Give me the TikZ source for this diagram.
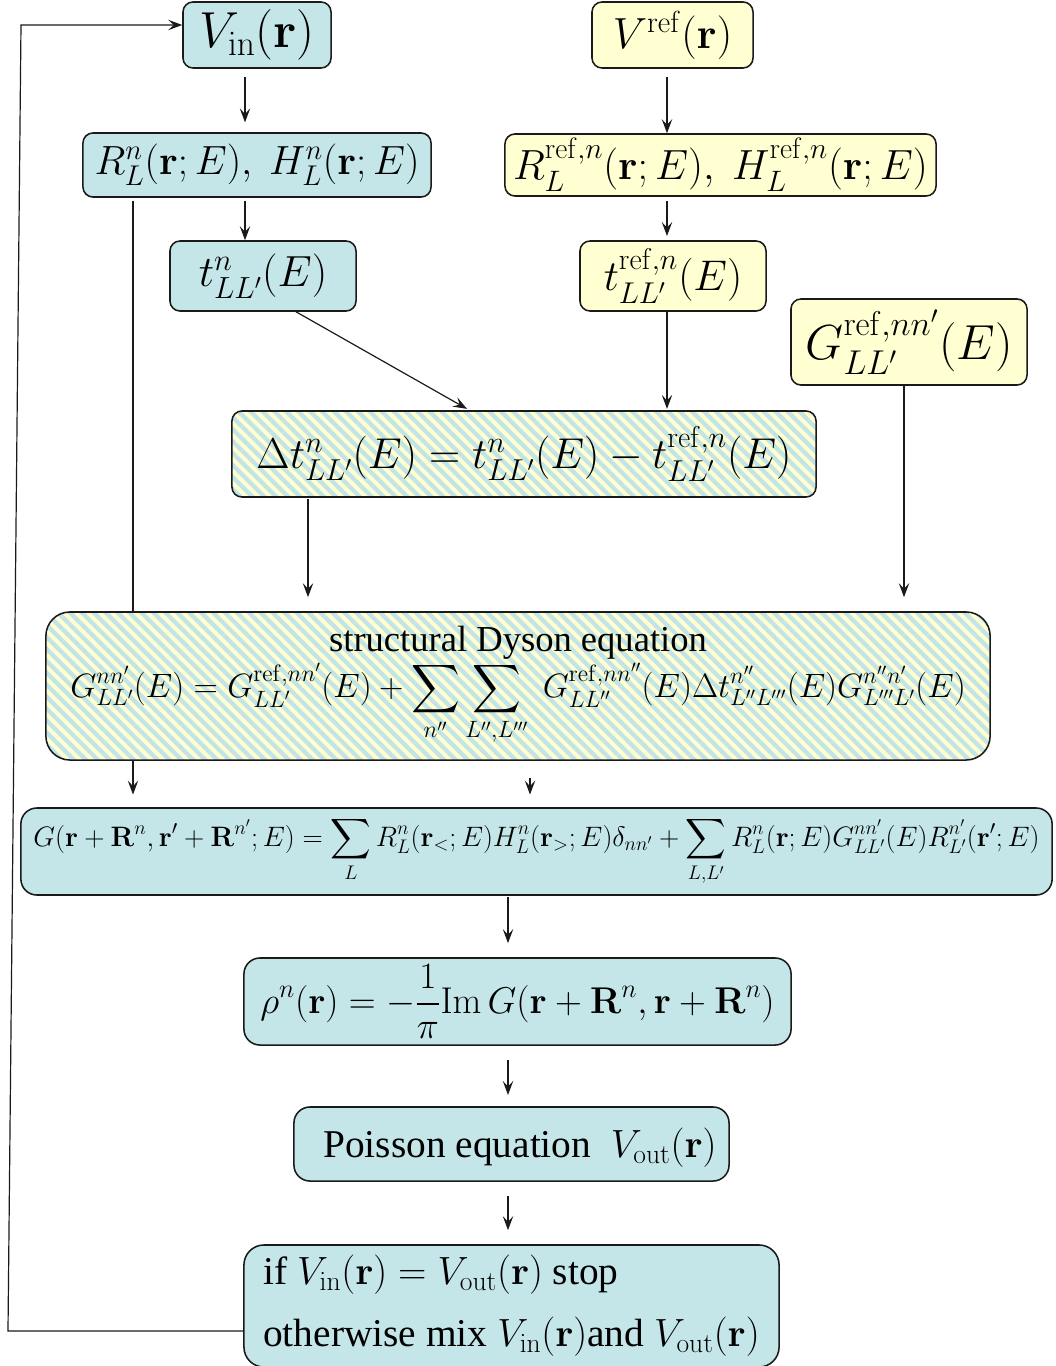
\documentclass[tikz,border=0pt]{standalone}
\usepackage{fix-cm}
\usepackage{amsmath,amssymb}
\usepackage[no-math]{fontspec}
\setmainfont{Liberation Serif}
\newfontfamily\textserif{Liberation Serif}
\usetikzlibrary{arrows.meta,calc,patterns.meta}
\definecolor{box}{HTML}{C5E6E8}
\definecolor{pale}{HTML}{FFFFD2}
\definecolor{stripe}{HTML}{C2E4E6}
\definecolor{ink}{HTML}{1A1A1A}
\newcommand{\rr}{\mathbf{r}}
\newcommand{\RR}{\mathbf{R}}

\begin{document}
\begin{tikzpicture}[
  x=0.025cm, y=-0.025cm,
  >={Stealth[length=3.5mm,width=2.6mm,inset=1.4mm]},
  stage/.style={
    rectangle,
    rounded corners=2.5mm,
    draw=ink,
    fill=box,
    line width=1.1pt,
    inner sep=0pt,
    align=center
  },
  given/.style={
    stage,
    fill=pale
  },
  hatched/.style={
    stage,
    fill=none,
    preaction={fill=pale},
    pattern={Lines[angle=-45,distance=6pt,line width=3pt]},
    pattern color=stripe
  },
  flow/.style={
    ink,
    line width=.85pt,
    ->
  }
]
\useasboundingbox (0,0) rectangle (1055,1366);

% potential input and reference system
\node[stage,minimum width=3.7cm,minimum height=1.65cm,
      font=\fontsize{36}{43}\selectfont]
  (vin) at (257,35) {$V_{\mathrm{in}}(\rr)$};
\node[given,minimum width=4.025cm,minimum height=1.65cm,
      font=\fontsize{31}{37}\selectfont]
  (vref) at (672.5,35) {$V^{\mathrm{ref}}(\rr)$};

\node[stage,minimum width=8.7cm,minimum height=1.6cm,
      font=\fontsize{29}{35}\selectfont]
  (rh) at (257,165) {$R^n_L(\rr;E),\ H^n_L(\rr;E)$};
\node[given,minimum width=10.775cm,minimum height=1.55cm,
      font=\fontsize{30}{36}\selectfont]
  (rref) at (720.5,165)
  {$R^{\mathrm{ref},n}_L(\rr;E),\ H^{\mathrm{ref},n}_L(\rr;E)$};

\node[stage,minimum width=4.65cm,minimum height=1.75cm,
      font=\fontsize{31}{37}\selectfont]
  (tn) at (263,276) {$t^n_{LL'}(E)$};
\node[given,minimum width=4.65cm,minimum height=1.75cm,
      font=\fontsize{30.5}{36}\selectfont]
  (tref) at (673,276) {$t^{\mathrm{ref},n}_{LL'}(E)$};
\node[given,minimum width=5.9cm,minimum height=2.15cm,
      font=\fontsize{35}{42}\selectfont]
  (gref) at (909,342) {$G^{\mathrm{ref},nn'}_{LL'}(E)$};

\node[hatched,minimum width=14.6cm,minimum height=2.15cm,
      font=\fontsize{30.7}{37}\selectfont]
  (dt) at (524,454)
  {$\Delta t^n_{LL'}(E)=t^n_{LL'}(E)-t^{\mathrm{ref},n}_{LL'}(E)$};

% lanes of the vertical connectors
\coordinate (lA) at (245,0);
\coordinate (lB) at (667,0);
\coordinate (lC) at (308,0);
\coordinate (lD) at (904,0);
\coordinate (lE) at (133,0);
\coordinate (lF) at (530,0);
\coordinate (lG) at (508,0);
\coordinate (tA) at (296,0);
\coordinate (tB) at (467,0);

\node[stage,rounded corners=4mm,minimum width=25.775cm,minimum height=2.175cm,
      font=\fontsize{20}{24}\selectfont]
  (gfun) at (536.5,851.5)
  {$\displaystyle
    G(\rr+\RR^n,\rr'+\RR^{n'};E)
    =\sum_L R^n_L(\rr_<;E)H^n_L(\rr_>;E)\delta_{nn'}
    +\sum_{L,L'}R^n_L(\rr;E)G^{nn'}_{LL'}(E)R^{n'}_{L'}(\rr';E)$};

% this one runs behind the Dyson box
\draw[flow,shorten <=2pt,shorten >=9pt] (rh.south -| lE) -- (gfun.north -| lE);

\node[hatched,rounded corners=6mm,minimum width=23.6cm,minimum height=3.7cm]
  (dyson) at (518,686)
  {{\textserif\fontsize{26}{31}\selectfont structural Dyson equation}\\[1pt]
   {\fontsize{24}{29}\selectfont$\displaystyle
    G^{nn'}_{LL'}(E)=G^{\mathrm{ref},nn'}_{LL'}(E)
    +\sum_{n''}\sum_{L'',L'''}\;
    G^{\mathrm{ref},nn''}_{LL''}(E)\Delta t^{n''}_{L''L'''}(E)
    G^{n''n'}_{L'''L'}(E)$}};

\node[stage,rounded corners=4mm,minimum width=13.675cm,minimum height=2.175cm,
      font=\fontsize{26.5}{32}\selectfont]
  (rho) at (517.5,1001.5)
  {$\displaystyle
    \rho^n(\rr)=-\frac{1}{\pi}\mathrm{Im}\,G(\rr+\RR^n,\rr+\RR^n)$};

\node[stage,rounded corners=4mm,minimum width=10.875cm,minimum height=1.85cm,
      font=\textserif\fontsize{28}{34}\selectfont,text depth=2pt]
  (poisson) at (511.5,1144)
  {\hspace*{12pt}Poisson equation~ $V_{\mathrm{out}}(\rr)$};

\node[stage,rounded corners=5mm,minimum width=13.375cm,minimum height=3.05cm,
      font=\textserif\fontsize{28}{34}\selectfont,align=left]
  (check) at (511.5,1306)
  {if $V_{\mathrm{in}}(\rr)=V_{\mathrm{out}}(\rr)$ stop\\[10pt]
   otherwise mix $V_{\mathrm{in}}(\rr)$and $V_{\mathrm{out}}(\rr)$};

% connectors
\draw[flow,shorten <=6pt,shorten >=7pt] (vin.south -| lA) -- (rh.north -| lA);
\draw[flow,shorten <=2pt] (rh.south -| lA) -- (tn.north -| lA);
\draw[flow,shorten <=6pt] (vref.south -| lB) -- (rref.north -| lB);
\draw[flow,shorten <=3pt,shorten >=3pt] (rref.south -| lB) -- (tref.north -| lB);
\draw[flow] (tref.south -| lB) -- (dt.north -| lB);
\draw[flow] (tn.south -| tA) -- (dt.north -| tB);
\draw[flow,shorten >=10pt] (dt.south -| lC) -- (dyson.north -| lC);
\draw[flow,shorten >=10pt] (gref.south -| lD) -- (dyson.north -| lD);
\draw[flow,shorten <=12pt,shorten >=9pt] (dyson.south -| lF) -- (gfun.north -| lF);
\draw[flow,shorten <=1pt,shorten >=10pt] (gfun.south -| lG) -- (rho.north -| lG);
\draw[flow,shorten <=10pt,shorten >=8pt] (rho.south -| lG) -- (poisson.north -| lG);
\draw[flow,shorten <=10pt,shorten >=10pt] (poisson.south -| lG) -- (check.north -| lG);

% back to the start
\coordinate (back) at (8,1331);
\coordinate (turn) at (21,25);
\draw[flow] (check.west |- back) -- (back) -- (turn) -- (vin.west |- turn);

\end{tikzpicture}
\end{document}
